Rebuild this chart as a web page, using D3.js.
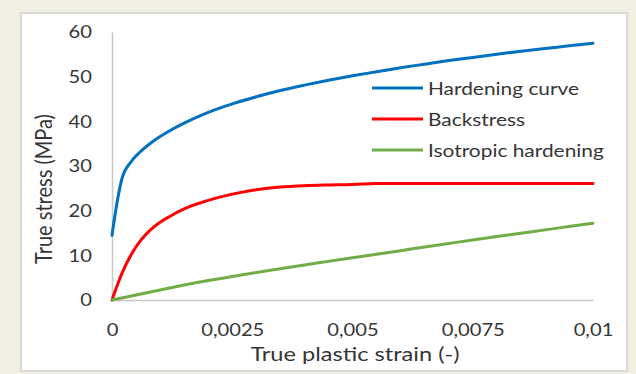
<!DOCTYPE html>
<html>
<head>
<meta charset="utf-8">
<script src="https://cdn.jsdelivr.net/npm/d3@7"></script>
<style>
  html, body { margin: 0; padding: 0; background: #f2f0e2; }
  svg { display: block; }
  text { font-family: Lato, "Open Sans", sans-serif; fill: #363636; }
</style>
</head>
<body>
<svg id="chart" width="636" height="374"></svg>
<script>
// True plastic strain (-)
const strain = [0, 0.0001, 0.0002, 0.0004, 0.0006, 0.0008, 0.001, 0.0012, 0.0015, 0.002,
  0.0025, 0.003, 0.0035, 0.004, 0.0045, 0.005, 0.0055, 0.006, 0.0065, 0.007,
  0.0075, 0.008, 0.0085, 0.009, 0.0095, 0.01];

// True stress (MPa) for each series
const hardeningCurve = [14.5, 21.5, 26.9, 31.0, 33.3, 35.1, 36.6, 37.9, 39.6, 42.0,
  43.9, 45.5, 46.9, 48.1, 49.2, 50.2, 51.1, 52.0, 52.8, 53.6,
  54.3, 55.0, 55.7, 56.3, 56.9, 57.5];
const backstress = [0, 3.0, 5.8, 10.2, 13.4, 15.7, 17.4, 18.7, 20.4, 22.3,
  23.7, 24.7, 25.3, 25.6, 25.75, 25.85, 26.1, 26.1, 26.1, 26.1,
  26.1, 26.1, 26.1, 26.1, 26.1, 26.1];
const isotropicHardening = [0, 0.22, 0.45, 0.9, 1.35, 1.8, 2.25, 2.7, 3.35, 4.35,
  5.25, 6.15, 7.0, 7.85, 8.65, 9.45, 10.25, 11.05, 11.85, 12.65,
  13.45, 14.2, 14.95, 15.7, 16.45, 17.2];

const seriesNames = ["Hardening curve", "Backstress", "Isotropic hardening"];
const seriesColors = ["#0070c0", "#ff0000", "#70ad47"];
const seriesValues = [hardeningCurve, backstress, isotropicHardening];

const xTicks = [0, 0.0025, 0.005, 0.0075, 0.01];
const yTicks = [0, 10, 20, 30, 40, 50, 60];

const xTitle = "True plastic strain (-)";
const yTitle = "True stress (MPa)";

// Horizontal stretch applied to lettering
const tickStretch = 1.12;
const titleStretch = 1.18;
const legendStretch = 1.16;

const svg = d3.select("#chart");

// chart panel
svg.append("rect")
  .attr("x", 21).attr("y", 13)
  .attr("width", 606).attr("height", 358)
  .attr("fill", "#ffffff")
  .attr("stroke", "#d9d9d9")
  .attr("stroke-width", 2);

const plot = { left: 112, right: 593, top: 32, bottom: 300 };

const x = d3.scaleLinear().domain([0, 0.01]).range([plot.left, plot.right]);
const y = d3.scaleLinear().domain([0, 60]).range([plot.bottom, plot.top]);

const fmt = d => d === 0 ? "0" : String(d).replace(".", ",");

// x axis
const gx = svg.append("g")
  .attr("transform", `translate(0,${plot.bottom})`)
  .call(d3.axisBottom(x).tickValues(xTicks).tickFormat(fmt).tickSize(0).tickPadding(23.5));
gx.select(".domain").attr("stroke", "#c8c8c8").attr("stroke-width", 1.6);
gx.selectAll("text")
  .attr("font-size", 18)
  .attr("font-family", "Lato, 'Open Sans', sans-serif")
  .attr("fill", "#363636")
  .attr("transform", `scale(${tickStretch},1)`);

// y axis
const gy = svg.append("g")
  .attr("transform", `translate(${plot.left},0)`)
  .call(d3.axisLeft(y).tickValues(yTicks).tickFormat(d3.format("d")).tickSize(0).tickPadding(18));
gy.select(".domain").attr("stroke", "#c8c8c8").attr("stroke-width", 1.6);
gy.selectAll("text")
  .attr("font-size", 18)
  .attr("font-family", "Lato, 'Open Sans', sans-serif")
  .attr("fill", "#363636")
  .attr("transform", `scale(${tickStretch},1)`);

// series lines
const line = d3.line()
  .x(d => x(d[0]))
  .y(d => y(d[1]))
  .curve(d3.curveMonotoneX);

seriesValues.forEach((vals, i) => {
  const pts = strain.map((s, k) => [s, vals[k]]);
  svg.append("path")
    .datum(pts)
    .attr("d", line)
    .attr("fill", "none")
    .attr("stroke", seriesColors[i])
    .attr("stroke-width", 3)
    .attr("stroke-linejoin", "round")
    .attr("stroke-linecap", "round");
});

// axis titles
svg.append("text")
  .attr("transform", `translate(355,361) scale(${titleStretch},1)`)
  .attr("text-anchor", "middle")
  .attr("font-size", 20)
  .text(xTitle);

svg.append("text")
  .attr("transform", `translate(51.5,189) scale(${tickStretch},1) rotate(-90)`)
  .attr("text-anchor", "middle")
  .attr("font-size", 20)
  .text(yTitle);

// legend
const legend = svg.append("g");
seriesNames.forEach((name, i) => {
  const cy = 88 + i * 31;
  legend.append("line")
    .attr("x1", 372).attr("x2", 423)
    .attr("y1", cy).attr("y2", cy)
    .attr("stroke", seriesColors[i])
    .attr("stroke-width", 3);
  legend.append("text")
    .attr("transform", `translate(428,${cy + 6.6}) scale(${legendStretch},1)`)
    .attr("font-size", 18)
    .text(name);
});
</script>
</body>
</html>
